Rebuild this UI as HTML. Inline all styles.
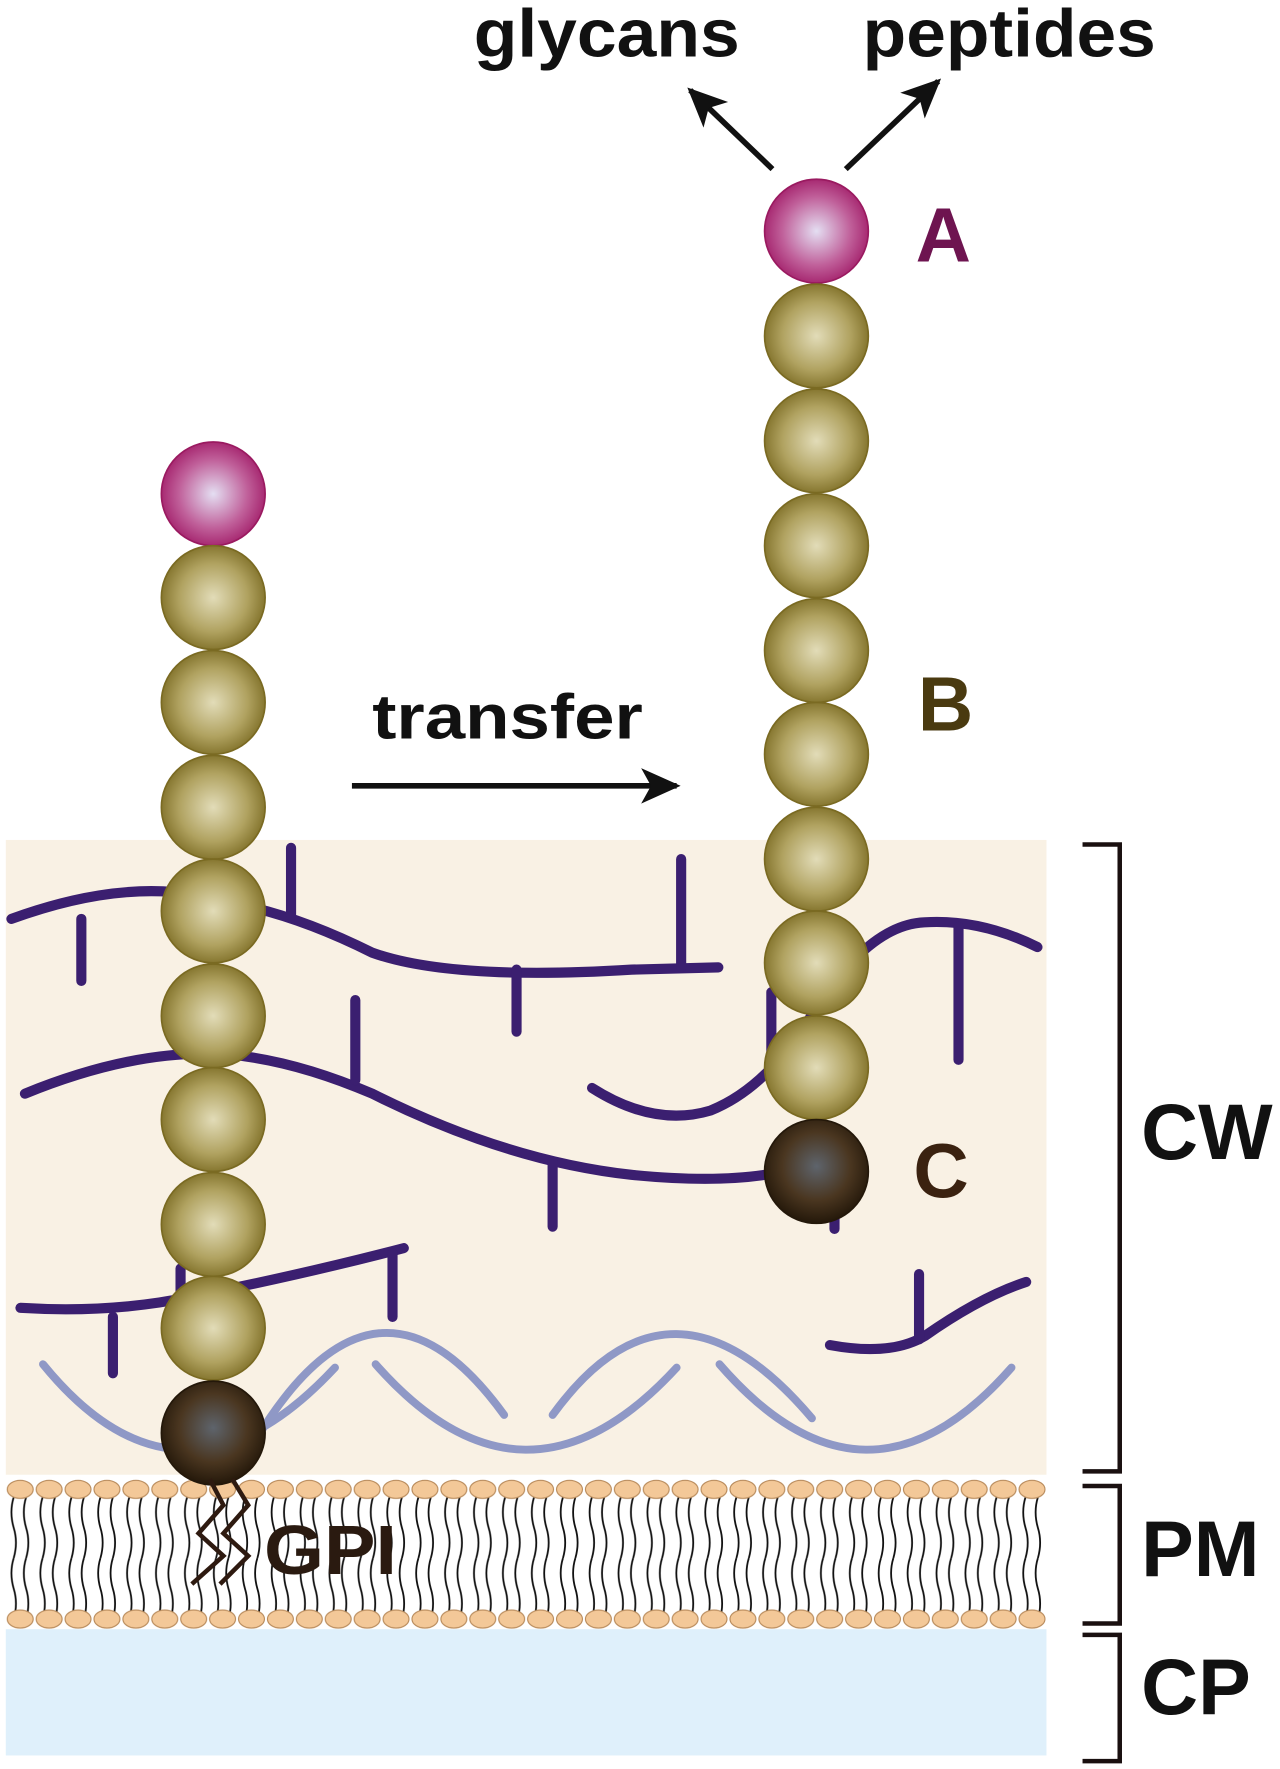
<!DOCTYPE html>
<html><head><meta charset="utf-8"><style>html,body{margin:0;padding:0;background:#fff}svg{display:block}</style></head><body>
<svg width="1280" height="1769" viewBox="0 0 1135 1569" xmlns="http://www.w3.org/2000/svg" font-family="'Liberation Sans', sans-serif" font-weight="bold">
<defs>
<radialGradient id="gold" cx="50%" cy="50%" r="55%"><stop offset="0" stop-color="#e2dcb8"/><stop offset="0.6" stop-color="#b0a260"/><stop offset="1" stop-color="#7a6a22"/></radialGradient>
<radialGradient id="pink" cx="50%" cy="50%" r="55%"><stop offset="0" stop-color="#e4def2"/><stop offset="0.6" stop-color="#c0609a"/><stop offset="1" stop-color="#a01a66"/></radialGradient>
<radialGradient id="dark" cx="50%" cy="45%" r="55%"><stop offset="0" stop-color="#5e646c"/><stop offset="0.6" stop-color="#4a3620"/><stop offset="1" stop-color="#24180a"/></radialGradient>
<pattern id="heads1" x="5" y="1311" width="25.64" height="20" patternUnits="userSpaceOnUse">
<ellipse cx="12.8" cy="10" rx="11.5" ry="8" fill="#f3c898" stroke="#b88a5a" stroke-width="1"/>
</pattern>
<pattern id="heads2" x="5" y="1426" width="25.64" height="20" patternUnits="userSpaceOnUse">
<ellipse cx="12.8" cy="10" rx="11.5" ry="8" fill="#f3c898" stroke="#b88a5a" stroke-width="1"/>
</pattern>
<pattern id="tails" x="5" y="1328" width="25.64" height="54" patternUnits="userSpaceOnUse">
<path d="M7 0 q-4 13 0 27 q4 13 0 27 M18 0 q-4 13 0 27 q4 13 0 27" fill="none" stroke="#111" stroke-width="1.6"/>
</pattern>
<marker id="ah" viewBox="0 0 10 10" refX="9" refY="5" markerWidth="7" markerHeight="7" orient="auto"><path d="M0 0.5 L10 5 L0 9.5 L2.5 5z" fill="#111"/></marker>
</defs>
<rect x="5" y="745" width="923" height="563" fill="#f9f1e4"/>
<rect x="5" y="1445" width="923" height="112" fill="#dff0fb"/>
<rect x="5" y="1328" width="923" height="108" fill="url(#tails)"/>
<rect x="5" y="1311" width="923" height="20" fill="url(#heads1)"/>
<rect x="5" y="1426" width="923" height="20" fill="url(#heads2)"/>
<g fill="none" stroke="#8f98c6" stroke-width="7" stroke-linecap="round">
<path d="M38 1210 Q160 1360 297 1213"/>
<path d="M333 1210 Q465 1360 600 1213"/>
<path d="M638 1210 Q768 1360 897 1213"/>
<path d="M228 1275 Q335 1100 447 1255"/>
<path d="M490 1255 Q595 1110 720 1258"/>
</g>
<g fill="none" stroke="#3b1f70" stroke-width="9" stroke-linecap="round">
<path d="M10 815 Q120 775 200 800 Q260 810 330 845 Q400 870 560 860 L637 858"/>
<path d="M72 815 V870 M258 752 V812 M458 860 V915 M604 762 V858"/>
<path d="M22 970 Q120 930 200 935 Q260 940 330 970 Q450 1030 560 1042 Q640 1050 690 1040"/>
<path d="M315 887 V958 M490 1030 V1088 M740 1062 V1090"/>
<path d="M525 965 Q580 1000 630 985 Q680 965 720 900 Q770 820 820 818 Q870 815 920 840"/>
<path d="M850 822 V940 M684 880 V940"/>
<path d="M18 1160 Q100 1165 170 1150 Q270 1130 358 1107"/>
<path d="M100 1168 V1218 M348 1112 V1168 M160 1125 V1150"/>
<path d="M736 1193 Q790 1203 820 1185 Q870 1150 910 1137"/>
<path d="M815 1130 V1188"/>
</g>
<g stroke-width="1.5">
<circle cx="189" cy="438" r="46" fill="url(#pink)" stroke="#9a1a60"/>
<g fill="url(#gold)" stroke="#7a6a22">
<circle cx="189" cy="530" r="46"/><circle cx="189" cy="623" r="46"/><circle cx="189" cy="716" r="46"/><circle cx="189" cy="808" r="46"/><circle cx="189" cy="901" r="46"/><circle cx="189" cy="993" r="46"/><circle cx="189" cy="1086" r="46"/><circle cx="189" cy="1178" r="46"/>
</g>
<circle cx="189" cy="1271" r="46" fill="url(#dark)" stroke="#24180a"/>
<circle cx="724" cy="205" r="46" fill="url(#pink)" stroke="#9a1a60"/>
<g fill="url(#gold)" stroke="#7a6a22">
<circle cx="724" cy="298" r="46"/><circle cx="724" cy="391" r="46"/><circle cx="724" cy="484" r="46"/><circle cx="724" cy="577" r="46"/><circle cx="724" cy="669" r="46"/><circle cx="724" cy="762" r="46"/><circle cx="724" cy="854" r="46"/><circle cx="724" cy="947" r="46"/>
</g>
<circle cx="724" cy="1039" r="46" fill="url(#dark)" stroke="#24180a"/>
</g>
<g fill="none" stroke="#2e1a10" stroke-width="4">
<path d="M186 1312 L198 1335 L176 1360 L198 1380 L170 1405"/>
<path d="M206 1312 L220 1335 L198 1360 L220 1380 L195 1405"/>
</g>
<text x="234" y="1396" font-size="62" fill="#2a1a10" textLength="118" lengthAdjust="spacingAndGlyphs">GPI</text>
<g stroke="#111" stroke-width="5" fill="none">
<line x1="685" y1="150" x2="612" y2="80" marker-end="url(#ah)"/>
<line x1="750" y1="150" x2="832" y2="72" marker-end="url(#ah)"/>
<line x1="312" y1="697" x2="600" y2="697" marker-end="url(#ah)"/>
</g>
<text x="420" y="50" font-size="60" fill="#111" textLength="236" lengthAdjust="spacingAndGlyphs">glycans</text>
<text x="765" y="50" font-size="60" fill="#111" textLength="260" lengthAdjust="spacingAndGlyphs">peptides</text>
<text x="330" y="655" font-size="56" fill="#111" textLength="240" lengthAdjust="spacingAndGlyphs">transfer</text>
<text x="812" y="232" font-size="68" fill="#6e1450">A</text>
<text x="814" y="648" font-size="68" fill="#4a3a10">B</text>
<text x="810" y="1062" font-size="68" fill="#3b2210">C</text>
<g fill="none" stroke="#1a1010" stroke-width="4">
<path d="M960 749 H993 V1305 H960"/>
<path d="M960 1318 H993 V1440 H960"/>
<path d="M960 1450 H993 V1562 H960"/>
</g>
<text x="1012" y="1028" font-size="70" fill="#111">CW</text>
<text x="1012" y="1398" font-size="70" fill="#111">PM</text>
<text x="1012" y="1520" font-size="70" fill="#111">CP</text>
</svg>
</body></html>
